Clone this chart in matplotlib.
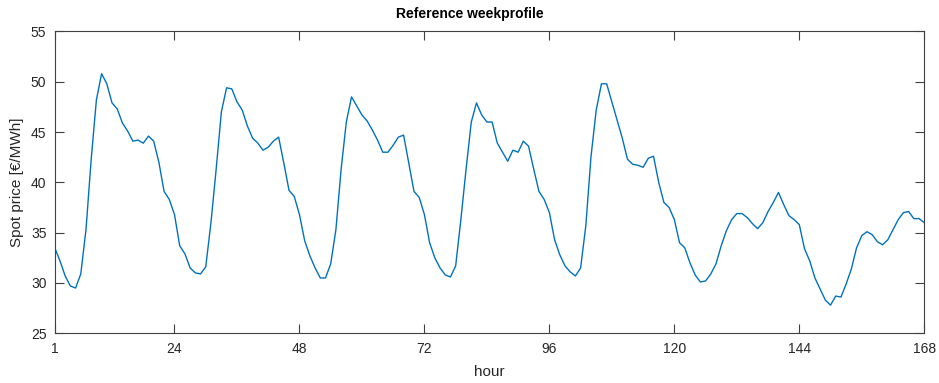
import matplotlib
matplotlib.use("Agg")
import matplotlib.pyplot as plt
import numpy as np

hours = list(range(1, 169))
price = [
    33.5, 32.2, 30.7, 29.7, 29.5, 30.9, 35.3, 42.3, 48.2, 50.8,
    49.8, 47.9, 47.3, 45.9, 45.1, 44.1, 44.2, 43.9, 44.6, 44.1,
    42.0, 39.1, 38.3, 36.8, 33.7, 32.9, 31.5, 31.0, 30.9, 31.6,
    36.0, 41.3, 47.0, 49.4, 49.3, 48.0, 47.2, 45.6, 44.4, 43.9,
    43.2, 43.5, 44.1, 44.5, 41.9, 39.2, 38.6, 36.8, 34.2, 32.7,
    31.5, 30.5, 30.5, 31.9, 35.3, 41.3, 46.0, 48.5, 47.6, 46.7,
    46.1, 45.2, 44.2, 43.0, 43.0, 43.7, 44.5, 44.7, 41.9, 39.1,
    38.5, 36.8, 34.0, 32.5, 31.5, 30.8, 30.6, 31.7, 36.3, 41.3,
    46.0, 47.9, 46.7, 46.0, 46.0, 43.9, 43.0, 42.1, 43.2, 43.0,
    44.1, 43.6, 41.3, 39.1, 38.3, 37.0, 34.3, 32.8, 31.7, 31.1,
    30.7, 31.5, 35.7, 42.6, 47.2, 49.8, 49.8, 48.0, 46.2, 44.4,
    42.3, 41.8, 41.7, 41.5, 42.4, 42.6, 40.0, 38.0, 37.5, 36.3,
    34.0, 33.5, 32.0, 30.8, 30.1, 30.2, 30.9, 31.9, 33.7, 35.2,
    36.3, 36.9, 36.9, 36.5, 35.9, 35.4, 36.0, 37.1, 38.0, 39.0,
    37.8, 36.7, 36.3, 35.8, 33.4, 32.2, 30.5, 29.4, 28.3, 27.8,
    28.7, 28.6, 29.9, 31.4, 33.5, 34.7, 35.1, 34.8, 34.1, 33.8,
    34.3, 35.3, 36.3, 37.0, 37.1, 36.4, 36.4, 36.0,
]
xticks = [1, 24, 48, 72, 96, 120, 144, 168]
yticks = [25, 30, 35, 40, 45, 50, 55]

plt.rcParams['font.family'] = ['Liberation Sans', 'DejaVu Sans']

fig = plt.figure(figsize=(9.39, 3.83), dpi=100)
ax = fig.add_axes([0.0583, 0.1298, 0.9260, 0.7880])
ax.plot(hours, price, color='#0072BD', linewidth=1.0)

ax.set_xlim(1, 168)
ax.set_ylim(25, 55)
ax.set_xticks(xticks)
ax.set_yticks(yticks)
ax.tick_params(direction='in', length=6.3, width=0.8, top=True, right=True,
               colors='#404040', labelsize=10, labelcolor='#262626', pad=6)
for s in ax.spines.values():
    s.set_color('#404040')
    s.set_linewidth(0.8)

fig.text(0.5, 1 - 14 / 383, 'Reference weekprofile', fontsize=10,
         fontweight='bold', ha='center', va='center', color='black')
ax.set_xlabel('hour', fontsize=11, color='#262626', labelpad=7)
ax.set_ylabel('Spot price [€/MWh]', fontsize=11, color='#262626', labelpad=5)

fig.savefig('out.png', dpi=100)
